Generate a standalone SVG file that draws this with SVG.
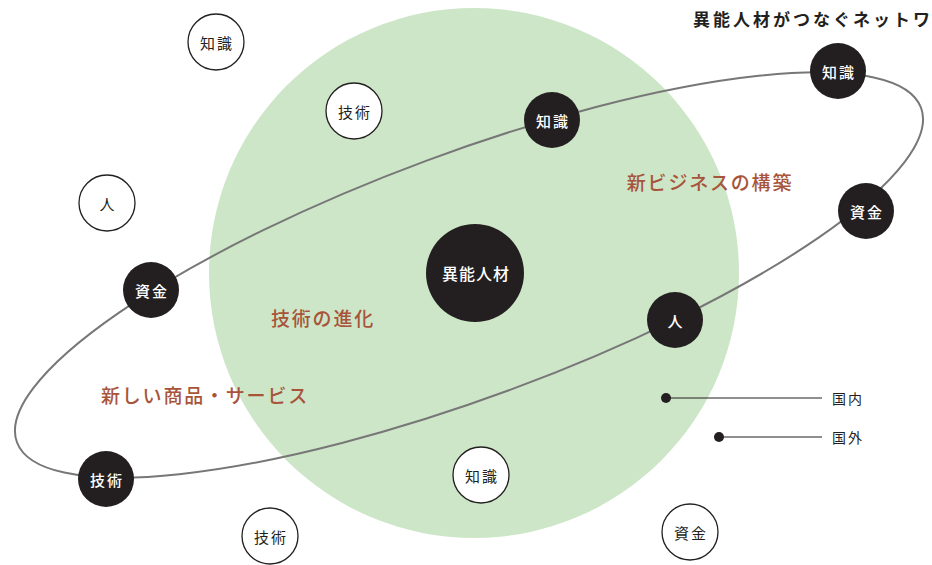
<svg xmlns="http://www.w3.org/2000/svg" width="932" height="565" viewBox="0 0 932 565">
<style>
text{font-family:"Noto Sans CJK JP","Noto Sans CJK SC",sans-serif;dominant-baseline:central;text-anchor:middle}
.dk circle{fill:#231f20}
.dk text{fill:#fff;font-size:15px;font-weight:500;letter-spacing:2px}
.wt circle{fill:#fff;stroke:#231f20;stroke-width:1.3}
.wt text{fill:#231f20;font-size:15px;letter-spacing:2px}
.lbl{fill:#a8543a;font-size:19px;font-weight:500;letter-spacing:1.8px}
.leg{fill:#231f20;font-size:14px;text-anchor:start;letter-spacing:2px}
</style>
<rect width="932" height="565" fill="#fff"/>
<circle id="area" cx="474" cy="273" r="265" fill="#cde6c8"/>
<text class="lbl" x="710" y="181">新ビジネスの構築</text>
<text class="lbl" x="323" y="317">技術の進化</text>
<text class="lbl" x="205" y="394">新しい商品・サービス</text>
<g id="connectors">
<ellipse cx="469" cy="275" rx="482" ry="122" transform="rotate(-20.3 469 275)" fill="none" stroke="#777" stroke-width="2"/>
<line x1="666" y1="398" x2="822" y2="398" stroke="#231f20" stroke-width="1.2"/>
<line x1="719" y1="437" x2="822" y2="437" stroke="#231f20" stroke-width="1.2"/>
<circle cx="666" cy="398" r="5" fill="#231f20"/>
<circle cx="719" cy="437" r="5" fill="#231f20"/>
</g>
<g id="center" class="dk"><circle cx="475" cy="273" r="49"/><text x="476" y="273" style="font-size:16px;letter-spacing:1px">異能人材</text></g>
<g id="d1" class="dk"><circle cx="838" cy="71" r="28"/><text x="839" y="71">知識</text></g>
<g id="d2" class="dk"><circle cx="552" cy="120" r="28"/><text x="553" y="120">知識</text></g>
<g id="d3" class="dk"><circle cx="866" cy="211" r="28"/><text x="867" y="211">資金</text></g>
<g id="d4" class="dk"><circle cx="151" cy="290" r="28"/><text x="152" y="290">資金</text></g>
<g id="d5" class="dk"><circle cx="675" cy="320" r="28"/><text x="676" y="320">人</text></g>
<g id="d6" class="dk"><circle cx="106" cy="479" r="28"/><text x="107" y="479">技術</text></g>
<g id="w1" class="wt"><circle cx="216" cy="42" r="28"/><text x="217" y="42">知識</text></g>
<g id="w2" class="wt"><circle cx="354" cy="111" r="28"/><text x="355" y="111">技術</text></g>
<g id="w3" class="wt"><circle cx="107" cy="203" r="28"/><text x="108" y="203">人</text></g>
<g id="w4" class="wt"><circle cx="481" cy="475" r="28"/><text x="482" y="475">知識</text></g>
<g id="w5" class="wt"><circle cx="270" cy="536" r="28"/><text x="271" y="536">技術</text></g>
<g id="w6" class="wt"><circle cx="690" cy="532" r="28"/><text x="691" y="532">資金</text></g>
<g id="legend">
<text class="leg" x="832" y="398">国内</text>
<text class="leg" x="832" y="437">国外</text>
</g>
<text id="title" x="693" y="18" style="text-anchor:start;font-size:17px;font-weight:600;letter-spacing:3px;fill:#231f20">異能人材がつなぐネットワーク</text>
</svg>
